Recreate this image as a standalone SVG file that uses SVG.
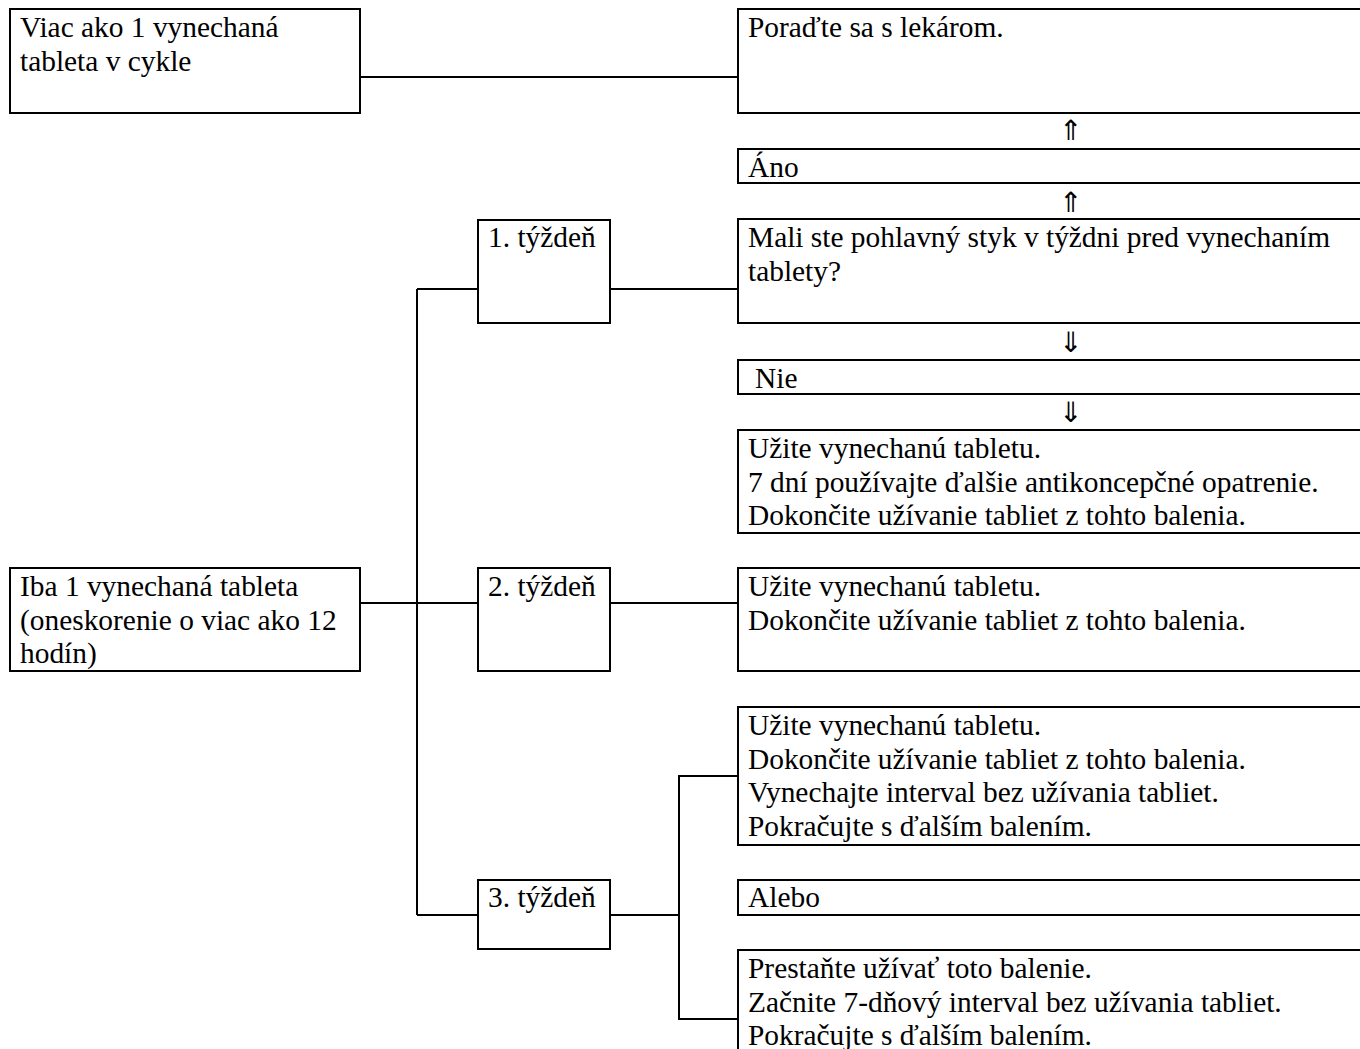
<svg xmlns="http://www.w3.org/2000/svg" width="1360" height="1049" viewBox="0 0 1360 1049">
<style>
.n rect{fill:#fff;stroke:#000;stroke-width:2}
.c line,.c polyline{stroke:#000;stroke-width:2;fill:none}
text{font-family:"Liberation Serif","Times New Roman",serif;font-size:29.4px;fill:#000}
.ar{font-family:"DejaVu Sans","Liberation Serif",serif;font-size:28px;text-anchor:middle;fill:#000}
</style>
<rect width="1360" height="1049" fill="#fff"/>
<g class="c" id="connectors">
<line x1="360" y1="77" x2="738" y2="77"/>
<line x1="417" y1="289" x2="417" y2="915"/>
<line x1="417" y1="289" x2="478" y2="289"/>
<line x1="360" y1="603" x2="478" y2="603"/>
<line x1="417" y1="915" x2="478" y2="915"/>
<line x1="610" y1="289" x2="738" y2="289"/>
<line x1="610" y1="603" x2="738" y2="603"/>
<line x1="610" y1="915" x2="679" y2="915"/>
<polyline points="738,776 679,776 679,1019 738,1019"/>
<text class="ar" x="1071" y="140">⇑</text>
<text class="ar" x="1071" y="212">⇑</text>
<text class="ar" x="1071" y="352">⇓</text>
<text class="ar" x="1071" y="422">⇓</text>
</g>
<g class="n" id="n_viac"><rect x="10" y="9" width="350" height="104"/><text x="20" y="37">Viac ako 1 vynechaná</text><text x="20" y="71">tableta v cykle</text></g>
<g class="n" id="n_porad"><rect x="738" y="9" width="700" height="104"/><text x="748" y="37">Poraďte sa s lekárom.</text></g>
<g class="n" id="n_ano"><rect x="738" y="149" width="700" height="34"/><text x="748" y="177">Áno</text></g>
<g class="n" id="n_mali"><rect x="738" y="219" width="700" height="104"/><text x="748" y="247">Mali ste pohlavný styk v týždni pred vynechaním</text><text x="748" y="281">tablety?</text></g>
<g class="n" id="n_nie"><rect x="738" y="360" width="700" height="34"/><text x="755" y="388">Nie</text></g>
<g class="n" id="n_uzite1"><rect x="738" y="430" width="700" height="103"/><text x="748" y="458">Užite vynechanú tabletu.</text><text x="748" y="492">7 dní používajte ďalšie antikoncepčné opatrenie.</text><text x="748" y="525">Dokončite užívanie tabliet z tohto balenia.</text></g>
<g class="n" id="n_w1"><rect x="478" y="220" width="132" height="103"/><text x="488" y="247">1. týždeň</text></g>
<g class="n" id="n_iba"><rect x="10" y="568" width="350" height="103"/><text x="20" y="596">Iba 1 vynechaná tableta</text><text x="20" y="630">(oneskorenie o viac ako 12</text><text x="20" y="663">hodín)</text></g>
<g class="n" id="n_w2"><rect x="478" y="568" width="132" height="103"/><text x="488" y="596">2. týždeň</text></g>
<g class="n" id="n_uzite2"><rect x="738" y="568" width="700" height="103"/><text x="748" y="596">Užite vynechanú tabletu.</text><text x="748" y="630">Dokončite užívanie tabliet z tohto balenia.</text></g>
<g class="n" id="n_w3"><rect x="478" y="880" width="132" height="69"/><text x="488" y="907">3. týždeň</text></g>
<g class="n" id="n_uzite3"><rect x="738" y="707" width="700" height="138"/><text x="748" y="735">Užite vynechanú tabletu.</text><text x="748" y="769">Dokončite užívanie tabliet z tohto balenia.</text><text x="748" y="802">Vynechajte interval bez užívania tabliet.</text><text x="748" y="836">Pokračujte s ďalším balením.</text></g>
<g class="n" id="n_alebo"><rect x="738" y="880" width="700" height="35"/><text x="748" y="907">Alebo</text></g>
<g class="n" id="n_prestan"><rect x="738" y="950" width="700" height="140"/><text x="748" y="978">Prestaňte užívať toto balenie.</text><text x="748" y="1012">Začnite 7-dňový interval bez užívania tabliet.</text><text x="748" y="1045">Pokračujte s ďalším balením.</text></g>
</svg>
